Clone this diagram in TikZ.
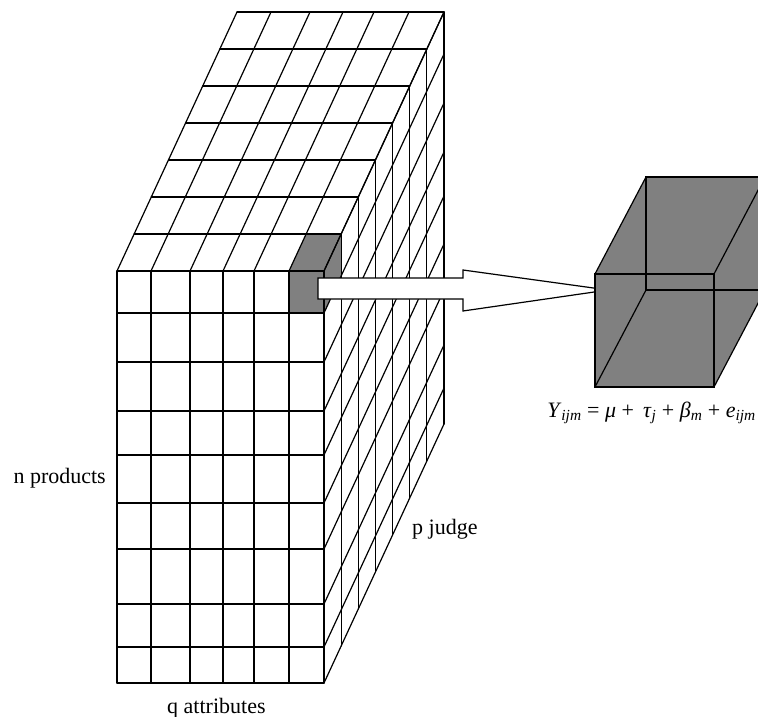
\documentclass[tikz,border=0pt]{standalone}
\usepackage{fontspec}
\setmainfont{Liberation Serif}
\usetikzlibrary{calc}
\definecolor{cellgray}{gray}{0.5}
\tikzset{
  cubeline/.style={
    line width=1.2pt,
    line cap=round,
    draw=black
  },
  bigarrow/.style={
    line width=1.2pt,
    line join=miter,
    draw=black,
    fill=white
  },
  lbl/.style={
    inner sep=0pt,
    font=\fontsize{22}{26}\selectfont
  },
}

\begin{document}
\begin{tikzpicture}[x=1pt,y=-1pt]
  \clip (0,0) rectangle (758,717);
  % the marked cell
  \fill[cellgray] (289,271) rectangle (324,313);
  \fill[cellgray] (289,271) -- (324,271) -- (341.14,234) -- (306.14,234) -- cycle;
  \fill[cellgray] (324,271) -- (341.14,234) -- (341.14,276) -- (324,313) -- cycle;
  % front face
  \foreach \y in {271,313,362,411,455,503,549,604,647,683}
    \draw[cubeline] (117,\y) -- (324,\y);
  \foreach \x in {117,151,190,223,254,289,324}
    \draw[cubeline] (\x,271) -- (\x,683);
  % top face
  \foreach \k in {1,...,7}
    \draw[cubeline] ($(117,271)+\k*(17.14,-37)$) -- ++(207,0);
  \foreach \x in {117,151,190,223,254,289,324}
    \draw[cubeline] (\x,271) -- ++(120,-259);
  % side face
  \foreach \k in {1,...,7}
    \draw[cubeline] ($(324,271)+\k*(17.14,-37)$) -- ++(0,412);
  \foreach \y in {271,313,362,411,455,503,549,604,647,683}
    \draw[cubeline] (324,\y) -- ++(120,-259);
  % arrow
  \draw[bigarrow] (318,278) -- (463,278) -- (463,270) -- (608,290)
    -- (463,311) -- (463,299) -- (318,299) -- cycle;
  % one cell
  \fill[cellgray] (595,387) -- (595,274) -- (646,177) -- (765,177)
    -- (765,290) -- (714,387) -- cycle;
  \draw[cubeline] (595,274) rectangle (714,387);
  \draw[cubeline] (646,177) rectangle (765,290);
  \foreach \x/\y in {595/274,714/274,595/387,714/387}
    \draw[cubeline] (\x,\y) -- ++(51,-97);
  % labels
  \node[lbl, anchor=base east] (nprod) at (106,483) {n products};
  \node[lbl, anchor=base west] (qattr) at (167,713) {q attributes};
  \node[lbl, anchor=base west] (pjudge) at (412,534) {p judge};
  \node[lbl, anchor=base east] (model) at (756,417)
    {\textit{Y}\textsubscript{\textit{ijm}} = \textit{μ} + \,\textit{τ}\textsubscript{\textit{j}} + \textit{β}\textsubscript{\textit{m}} + \textit{e}\textsubscript{\textit{ijm}}};
\end{tikzpicture}
\end{document}
